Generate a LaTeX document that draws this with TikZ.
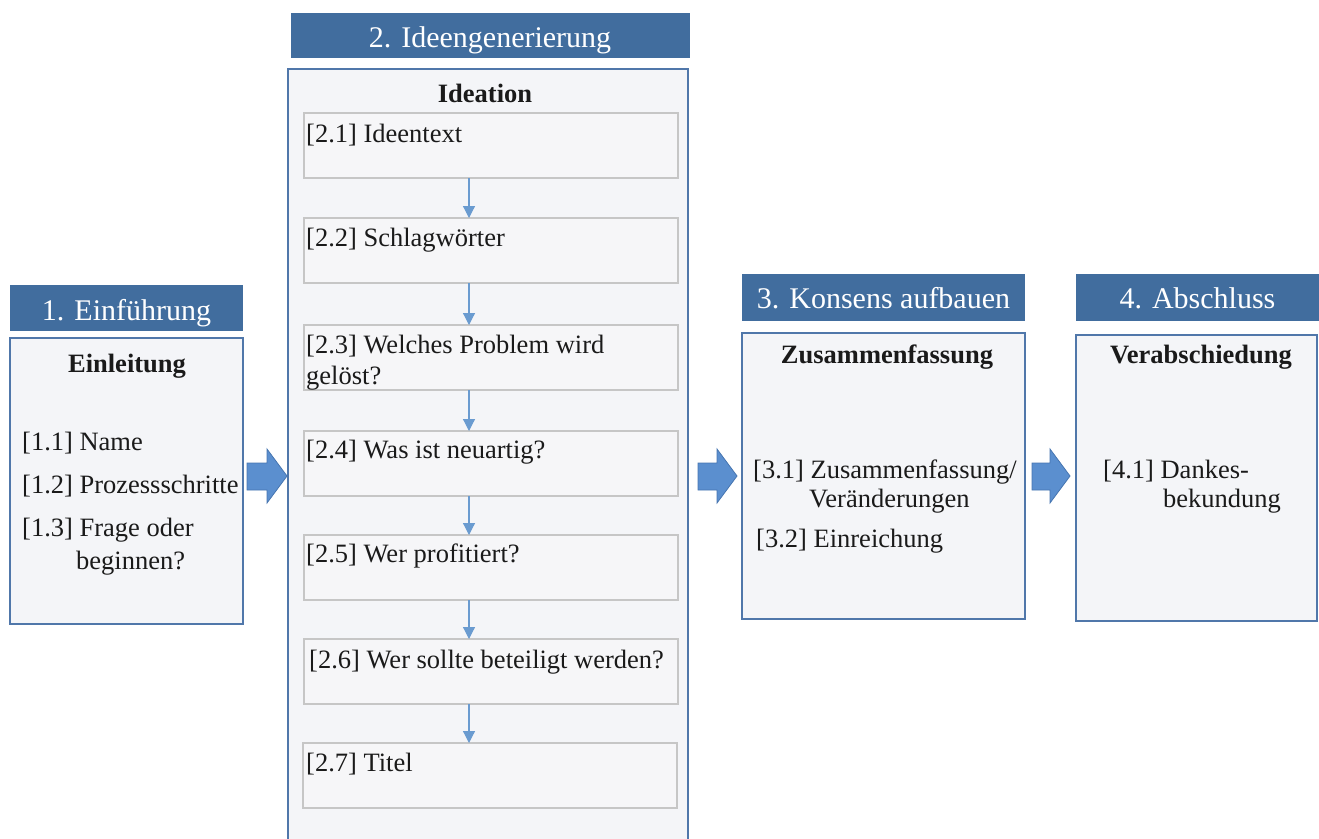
\documentclass[tikz,border=0pt]{standalone}
\usepackage{fontspec}
\setmainfont{Liberation Serif}
\usetikzlibrary{arrows.meta,calc}

\definecolor{headblue}{HTML}{416D9E}
\definecolor{frameblue}{HTML}{5077AA}
\definecolor{panelfill}{HTML}{F4F5F8}
\definecolor{stepframe}{HTML}{C6C6C6}
\definecolor{stepfill}{HTML}{F6F6F8}
\definecolor{flowblue}{HTML}{6A9BD0}
\definecolor{bigarrowfill}{HTML}{5B8FCF}
\definecolor{bigarrowline}{HTML}{4675B0}
\definecolor{ink}{HTML}{1A1A1A}

% block arrow between two phases: shaft start, head start, tip
\newcommand{\phasearrow}[3]{%
  \draw[bigarrow] (#1,463) -- (#2,463) -- (#2,449) -- (#3,476) -- (#2,503)
    -- (#2,490) -- (#1,490) -- cycle;}

\begin{document}
\begin{tikzpicture}[x=1pt,y=-1pt,
  header/.style={fill=headblue, draw=none, inner sep=0pt, outer sep=0pt, anchor=north west},
  headtext/.style={text=white, inner sep=0pt, anchor=base, font=\fontsize{30}{36}\selectfont},
  panel/.style={fill=panelfill, draw=frameblue, line width=1.5pt, inner sep=0pt, outer sep=0pt, anchor=north west},
  stepbox/.style={fill=stepfill, draw=stepframe, line width=1.2pt, inner sep=0pt, outer sep=0pt, anchor=north west,
                  minimum width=374pt, minimum height=65pt},
  paneltitle/.style={text=ink, inner sep=0pt, anchor=base, font=\fontsize{26.5}{32}\selectfont\bfseries},
  item/.style={text=ink, inner sep=0pt, anchor=base west, font=\fontsize{26.5}{32}\selectfont},
  flow/.style={draw=flowblue, line width=1.2pt, -{Triangle[width=12pt,length=12pt]}},
  bigarrow/.style={fill=bigarrowfill, draw=bigarrowline, line width=0.8pt, line join=miter}
]
\useasboundingbox (0,0) rectangle (1319,838);
\clip (0,0) rectangle (1319,838);

% column headers
\node[header, minimum width=233pt, minimum height=46pt] (h1) at (10,285) {};
\node[header, minimum width=399pt, minimum height=45pt] (h2) at (291,13) {};
\node[header, minimum width=283pt, minimum height=47pt] (h3) at (742,274) {};
\node[header, minimum width=245pt, minimum height=47pt] (h4) at (1076,274) {};
\node[headtext] (h1t) at (126.5,320) {1. Einführung};
\node[headtext] (h2t) at (490,47) {2. Ideengenerierung};
\node[headtext] (h3t) at (883.5,308) {3. Konsens aufbauen};
\node[headtext] (h4t) at (1197.5,308) {4. Abschluss};

% panels
\node[panel, minimum width=233pt, minimum height=286pt] (p1) at (10,338) {};
\node[panel, minimum width=400pt, minimum height=790pt] (p2) at (288,69) {};
\node[panel, minimum width=283pt, minimum height=286pt] (p3) at (742,333) {};
\node[panel, minimum width=241pt, minimum height=286pt] (p4) at (1076,335) {};

% panel 1
\node[paneltitle] (p1t) at (127,372) {Einleitung};
\node[item] (i11) at (22,450) {[1.1] Name};
\node[item] (i12) at (22,493) {[1.2] Prozessschritte};
\node[item] (i13) at (22,536) {[1.3] Frage oder};
\node[item] (i13b) at (76,569) {beginnen?};

% panel 2
\node[paneltitle] (p2t) at (485,102) {Ideation};
\node[stepbox] (s1) at (304,113) {};
\node[stepbox] (s2) at (304,218) {};
\node[stepbox] (s3) at (304,325) {};
\node[stepbox] (s4) at (304,431) {};
\node[stepbox] (s5) at (304,535) {};
\node[stepbox] (s6) at (304,639) {};
\node[stepbox] (s7) at (303,743) {};
\node[item] (t1) at (306,142) {[2.1] Ideentext};
\node[item] (t2) at (306,246) {[2.2] Schlagwörter};
\node[item] (t3) at (306,353) {[2.3] Welches Problem wird};
\node[item] (t3b) at (306,384) {gelöst?};
\node[item] (t4) at (306,458) {[2.4] Was ist neuartig?};
\node[item] (t5) at (306,562) {[2.5] Wer profitiert?};
\node[item] (t6) at (309,668) {[2.6] Wer sollte beteiligt werden?};
\node[item] (t7) at (306,771) {[2.7] Titel};

% flow inside panel 2
\coordinate (fx) at (469,0);
\draw[flow] (s1.south -| fx) -- (s2.north -| fx);
\draw[flow] (s2.south -| fx) -- (s3.north -| fx);
\draw[flow] (s3.south -| fx) -- (s4.north -| fx);
\draw[flow] (s4.south -| fx) -- (s5.north -| fx);
\draw[flow] (s5.south -| fx) -- (s6.north -| fx);
\draw[flow] (s6.south -| fx) -- (s7.north -| fx);

% panel 3
\node[paneltitle] (p3t) at (887,363) {Zusammenfassung};
\node[item] (i31) at (753,478) {[3.1] Zusammenfassung/};
\node[item] (i31b) at (809,507) {Veränderungen};
\node[item] (i32) at (756,547) {[3.2] Einreichung};

% panel 4
\node[paneltitle] (p4t) at (1201,363) {Verabschiedung};
\node[item] (i41) at (1103,478) {[4.1] Dankes-};
\node[item] (i41b) at (1163,507) {bekundung};

% phase transitions
\phasearrow{247}{267}{287}
\phasearrow{698}{717}{737}
\phasearrow{1032}{1050}{1070}
\end{tikzpicture}
\end{document}
